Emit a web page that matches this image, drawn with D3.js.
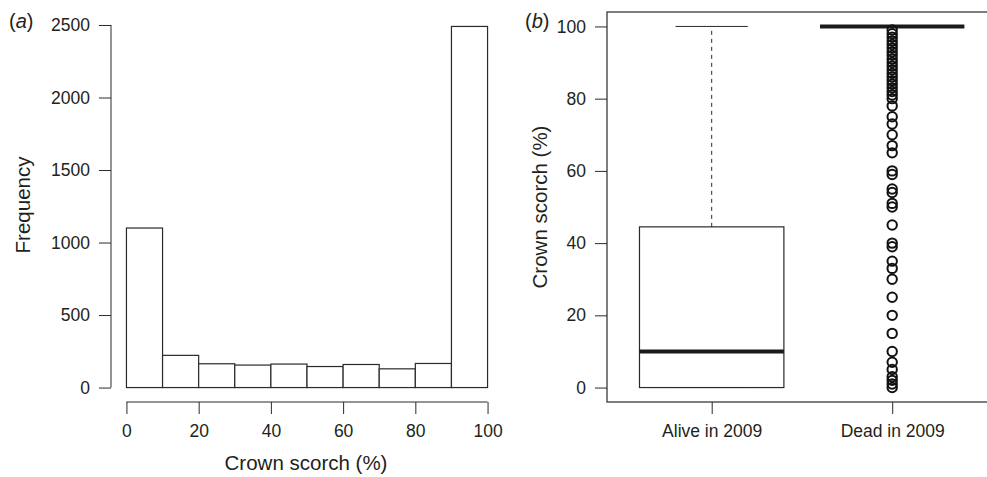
<!DOCTYPE html>
<html lang="en">
<head>
    <meta charset="UTF-8">
    <title>Crown scorch</title>
    <style>
        body {
            margin: 0;
            background: #fff;
        }
        svg text {
            font-family: "Liberation Sans", Arial, sans-serif;
            fill: #231f20;
        }
    </style>
</head>
<body>
<script src="https://cdn.jsdelivr.net/npm/d3@7"></script>
<script>

    // histogram (a)
    var binEdges = [0, 10, 20, 30, 40, 50, 60, 70, 80, 90, 100];
    var counts = [1100, 222, 164, 155, 162, 145, 159, 129, 166, 2490];
    var histXTicks = [0, 20, 40, 60, 80, 100];
    var histYTicks = [0, 500, 1000, 1500, 2000, 2500];

    // boxplot (b)
    var groups = ['Alive in 2009', 'Dead in 2009'];
    var boxStats = [
        {lo: 0, q1: 0, med: 10, q3: 44.5, hi: 100},
        {lo: 100, q1: 100, med: 100, q3: 100, hi: 100}
    ];
    var deadOutliers = [0, 1, 2, 3, 5, 7, 10, 15, 20, 25, 30, 33, 35, 39, 40, 45, 50, 51, 54, 55,
        59, 60, 65, 67, 70, 73, 75, 78, 80, 81, 82, 83, 84, 85, 86, 87, 88, 89, 90, 91, 92, 93,
        94, 95, 96, 97, 98, 99];
    var boxYTicks = [0, 20, 40, 60, 80, 100];

    var width = 987,
        height = 477;

    var ink = '#2a2a2a';
    var tickFont = 17.5,
        titleFont = 20.5;

    var svg = d3.select('body').append('svg')
        .attr('width', width)
        .attr('height', height);

    // R style axis: no outer ticks, labels in plain integers
    function rAxis(g, axis, ticks) {
        g.call(axis.tickValues(ticks).tickSizeOuter(0).tickSize(12).tickPadding(9));
        g.select('.domain').remove();
        g.attr('font-size', tickFont).attr('font-family', null);
        g.selectAll('.tick line').attr('stroke', ink);
        g.selectAll('.tick text').attr('fill', '#231f20');
    }

    // ---------- panel (a)
    var xa = d3.scaleLinear().domain([-4, 104]).range([112, 502]);
    var maxCount = d3.max(counts);
    var ya = d3.scaleLinear().domain([-0.04 * maxCount, 1.04 * maxCount]).range([402, 12]);

    var pa = svg.append('g');

    pa.selectAll('.bar')
        .data(counts)
        .enter()
        .append('rect')
        .attr('class', 'bar')
        .attr('x', (d, i) => xa(binEdges[i]))
        .attr('y', d => ya(d))
        .attr('width', (d, i) => xa(binEdges[i + 1]) - xa(binEdges[i]))
        .attr('height', d => ya(0) - ya(d))
        .attr('fill', '#fff')
        .attr('stroke', ink)
        .attr('stroke-width', 1.2);

    var gax = pa.append('g').attr('transform', 'translate(0,402)');
    rAxis(gax, d3.axisBottom(xa).tickFormat(d3.format('d')), histXTicks);
    gax.selectAll('.tick text').attr('y', 22.6);
    gax.append('line')
        .attr('x1', xa(0)).attr('x2', xa(100))
        .attr('stroke', ink);

    var gay = pa.append('g').attr('transform', 'translate(111,0)');
    rAxis(gay, d3.axisLeft(ya).tickFormat(d3.format('d')), histYTicks);
    gay.append('line')
        .attr('y1', ya(0)).attr('y2', ya(2500))
        .attr('stroke', ink);

    pa.append('text')
        .attr('x', 306).attr('y', 470)
        .attr('text-anchor', 'middle')
        .attr('font-size', titleFont)
        .text('Crown scorch (%)');

    pa.append('text')
        .attr('transform', 'translate(30,205) rotate(-90)')
        .attr('text-anchor', 'middle')
        .attr('font-size', titleFont)
        .text('Frequency');

    var la = pa.append('text').attr('x', 9).attr('y', 28).attr('font-size', 20);
    la.append('tspan').text('(');
    la.append('tspan').attr('font-style', 'italic').text('a');
    la.append('tspan').text(')');

    // ---------- panel (b)
    var xb = d3.scaleLinear().domain([0.42, 2.58]).range([607, 607 + 2.16 * 180.5]);
    var yb = d3.scaleLinear().domain([-4, 104]).range([402, 12]);
    var boxW = 0.8 * 180.5;

    var pb = svg.append('g');

    pb.append('rect')
        .attr('x', 607).attr('y', 12)
        .attr('width', xb(2.58) - 607).attr('height', 390)
        .attr('fill', 'none')
        .attr('stroke', ink)
        .attr('stroke-width', 1.2);

    var box = pb.selectAll('.box')
        .data(boxStats)
        .enter()
        .append('g')
        .attr('class', 'box')
        .attr('transform', (d, i) => 'translate(' + xb(i + 1) + ',0)');

    // whiskers
    box.append('line')
        .attr('y1', d => yb(d.q3)).attr('y2', d => yb(d.hi))
        .attr('stroke', ink)
        .attr('stroke-dasharray', '4,4');
    box.append('line')
        .attr('y1', d => yb(d.q1)).attr('y2', d => yb(d.lo))
        .attr('stroke', ink)
        .attr('stroke-dasharray', '4,4');
    box.append('line')
        .attr('x1', -boxW / 4).attr('x2', boxW / 4)
        .attr('y1', d => yb(d.hi)).attr('y2', d => yb(d.hi))
        .attr('stroke', ink);
    box.append('line')
        .attr('x1', -boxW / 4).attr('x2', boxW / 4)
        .attr('y1', d => yb(d.lo)).attr('y2', d => yb(d.lo))
        .attr('stroke', '#999');

    box.append('rect')
        .attr('x', -boxW / 2)
        .attr('width', boxW)
        .attr('y', d => yb(d.q3))
        .attr('height', d => yb(d.q1) - yb(d.q3))
        .attr('fill', 'none')
        .attr('stroke', ink)
        .attr('stroke-width', 1.2);

    box.append('line')
        .attr('x1', -boxW / 2).attr('x2', boxW / 2)
        .attr('y1', d => yb(d.med)).attr('y2', d => yb(d.med))
        .attr('stroke', '#1a1a1a')
        .attr('stroke-width', 4);

    pb.selectAll('.out')
        .data(deadOutliers)
        .enter()
        .append('circle')
        .attr('class', 'out')
        .attr('cx', xb(2))
        .attr('cy', d => yb(d))
        .attr('r', 4.7)
        .attr('fill', 'none')
        .attr('stroke', '#111')
        .attr('stroke-width', 2);

    var gbx = pb.append('g').attr('transform', 'translate(0,402)');
    rAxis(gbx, d3.axisBottom(xb).tickFormat((d, i) => groups[i]), [1, 2]);
    gbx.selectAll('.tick text').attr('y', 22.6);

    var gby = pb.append('g').attr('transform', 'translate(607,0)');
    rAxis(gby, d3.axisLeft(yb).tickFormat(d3.format('d')), boxYTicks);

    pb.append('text')
        .attr('transform', 'translate(547,207) rotate(-90)')
        .attr('text-anchor', 'middle')
        .attr('font-size', titleFont)
        .text('Crown scorch (%)');

    var lb = pb.append('text').attr('x', 525).attr('y', 28).attr('font-size', 20);
    lb.append('tspan').text('(');
    lb.append('tspan').attr('font-style', 'italic').text('b');
    lb.append('tspan').text(')');

</script>
</body>
</html>
